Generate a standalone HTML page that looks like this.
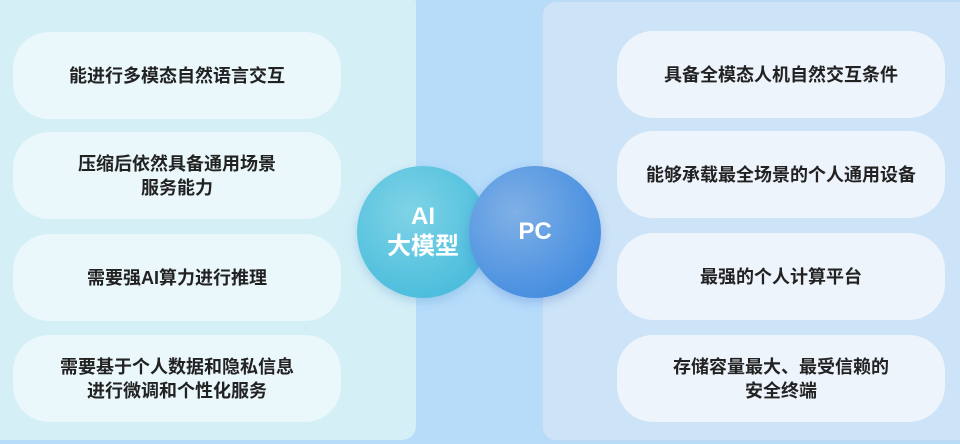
<!DOCTYPE html>
<html><head><meta charset="utf-8"><style>
*{margin:0;padding:0;box-sizing:border-box}
body{width:960px;height:444px;overflow:hidden;background:#b6dcfa;position:relative;font-family:"Liberation Sans","Noto Sans CJK SC",sans-serif}
.lp{position:absolute;left:-20px;top:-10px;width:436px;height:450px;background:#d5eff7;border-radius:14px}
.rp{position:absolute;left:542px;top:1px;width:440px;height:440px;background:#cde3f7;border-radius:14px;border:1px solid #c0d8f2}
.card{position:absolute;width:328px;height:87px;border-radius:36px;display:flex;align-items:center;justify-content:center;text-align:center;font-size:18px;font-weight:bold;color:#222;line-height:24px}
.l{left:13px;background:#eaf7fb}
.r{left:617px;background:#eef4fc}
.c{position:absolute;width:132px;height:132px;border-radius:50%;display:flex;align-items:center;justify-content:center;text-align:center;color:#fff;font-weight:bold;font-size:24px;line-height:30px}
</style></head><body>
<div class="lp"></div>
<div class="rp"></div>
<div class="card l" style="top:32px">能进行多模态自然语言交互</div>
<div class="card l" style="top:132px">压缩后依然具备通用场景<br>服务能力</div>
<div class="card l" style="top:234px">需要强AI算力进行推理</div>
<div class="card l" style="top:335px">需要基于个人数据和隐私信息<br>进行微调和个性化服务</div>
<div class="card r" style="top:31px">具备全模态人机自然交互条件</div>
<div class="card r" style="top:131px">能够承载最全场景的个人通用设备</div>
<div class="card r" style="top:233px">最强的个人计算平台</div>
<div class="card r" style="top:335px">存储容量最大、最受信赖的<br>安全终端</div>
<div class="c" style="left:357px;top:166px;background:radial-gradient(circle at 40% 35%,#7fd3e6,#4fbfdd 70%,#45b4d8);box-shadow:0 4px 10px rgba(80,150,200,.3)">AI<br>大模型</div>
<div class="c" style="left:469px;top:166px;background:radial-gradient(circle at 35% 35%,#7fb0e6,#4a90e0 70%,#3f86dc);box-shadow:0 4px 10px rgba(60,110,200,.3)">PC</div>
</body></html>
